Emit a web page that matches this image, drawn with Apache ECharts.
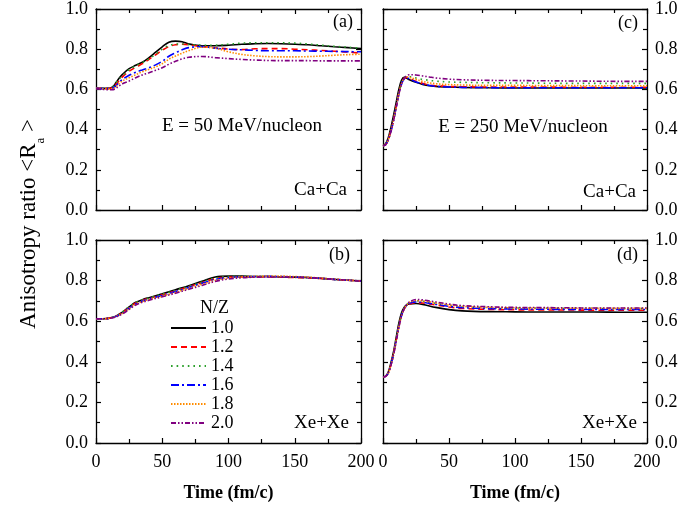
<!DOCTYPE html>
<html>
<head>
<meta charset="utf-8">
<script src="https://cdn.jsdelivr.net/npm/echarts@6/dist/echarts.min.js"></script>
<style>html,body{margin:0;padding:0;background:#fff;}#chart{width:681px;height:514px;}</style>
</head>
<body>
<div id="chart"></div>
<script>
// ---------- DATA ----------
const nzLabels = ['1.0', '1.2', '1.4', '1.6', '1.8', '2.0'];
const xTicks = [0, 50, 100, 150, 200];
const yTicks = [0.0, 0.2, 0.4, 0.6, 0.8, 1.0];

// (a) Ca+Ca, E = 50 MeV/nucleon
const tA = [0,5,10,13,15,18,20,25,30,35,40,45,50,55,60,65,70,80,90,100,110,120,130,140,150,160,170,180,190,200];
const a10 = [0.605,0.605,0.606,0.615,0.633,0.66,0.675,0.703,0.72,0.735,0.758,0.785,0.812,0.835,0.84,0.837,0.826,0.817,0.817,0.82,0.825,0.827,0.828,0.827,0.825,0.822,0.817,0.812,0.808,0.803];
const a12 = [0.605,0.605,0.605,0.612,0.625,0.648,0.662,0.69,0.71,0.728,0.75,0.772,0.795,0.813,0.822,0.825,0.822,0.813,0.807,0.801,0.798,0.802,0.803,0.803,0.8,0.797,0.794,0.79,0.786,0.78];
const a14 = [0.605,0.605,0.606,0.615,0.632,0.655,0.668,0.698,0.718,0.733,0.752,0.775,0.8,0.818,0.825,0.826,0.823,0.82,0.82,0.825,0.83,0.832,0.832,0.832,0.83,0.826,0.82,0.814,0.81,0.805];
const a16 = [0.605,0.604,0.604,0.608,0.618,0.638,0.65,0.67,0.685,0.697,0.708,0.722,0.74,0.765,0.782,0.797,0.808,0.813,0.805,0.8,0.797,0.794,0.792,0.792,0.792,0.791,0.79,0.789,0.788,0.787];
const a18 = [0.605,0.603,0.602,0.605,0.613,0.632,0.642,0.658,0.673,0.688,0.7,0.712,0.728,0.75,0.766,0.78,0.793,0.81,0.805,0.787,0.774,0.767,0.763,0.762,0.762,0.763,0.766,0.77,0.773,0.775];
const a20 = [0.605,0.6,0.598,0.599,0.605,0.62,0.628,0.642,0.658,0.672,0.683,0.695,0.708,0.725,0.74,0.752,0.76,0.764,0.758,0.753,0.749,0.746,0.744,0.743,0.743,0.743,0.742,0.742,0.742,0.742];

// (b) Xe+Xe, E = 50 MeV/nucleon
const tB = [0,5,10,15,20,25,30,35,40,50,60,70,80,90,100,110,120,130,140,150,160,170,180,190,200];
const b10 = [0.612,0.612,0.615,0.625,0.645,0.67,0.693,0.706,0.716,0.735,0.755,0.775,0.797,0.818,0.822,0.822,0.82,0.82,0.818,0.817,0.815,0.811,0.806,0.802,0.798];
const b12 = [0.612,0.612,0.615,0.625,0.643,0.668,0.69,0.703,0.713,0.73,0.75,0.77,0.79,0.81,0.817,0.818,0.818,0.818,0.817,0.815,0.813,0.81,0.806,0.802,0.798];
const b14 = [0.612,0.612,0.615,0.626,0.646,0.672,0.692,0.705,0.714,0.733,0.752,0.772,0.793,0.813,0.82,0.821,0.82,0.82,0.818,0.816,0.814,0.81,0.806,0.802,0.798];
const b16 = [0.612,0.612,0.614,0.623,0.64,0.664,0.686,0.7,0.71,0.727,0.746,0.766,0.787,0.806,0.815,0.818,0.82,0.821,0.82,0.818,0.815,0.811,0.806,0.802,0.798];
const b18 = [0.612,0.612,0.614,0.622,0.638,0.662,0.683,0.697,0.707,0.723,0.742,0.762,0.782,0.801,0.813,0.818,0.821,0.822,0.822,0.82,0.817,0.812,0.807,0.802,0.798];
const b20 = [0.612,0.612,0.614,0.621,0.636,0.658,0.68,0.693,0.703,0.72,0.738,0.757,0.776,0.796,0.808,0.814,0.817,0.818,0.818,0.817,0.815,0.811,0.806,0.802,0.797];

// (c) Ca+Ca, E = 250 MeV/nucleon
const tC = [0,2,4,6,8,10,12,14,16,18,20,25,30,35,40,50,60,80,100,120,140,160,180,200];
const c10 = [0.32,0.33,0.36,0.41,0.47,0.535,0.6,0.645,0.66,0.655,0.648,0.635,0.625,0.618,0.615,0.612,0.61,0.608,0.607,0.607,0.607,0.607,0.607,0.607];
const c12 = [0.32,0.325,0.35,0.395,0.45,0.515,0.58,0.63,0.655,0.66,0.655,0.64,0.63,0.622,0.618,0.615,0.613,0.612,0.612,0.612,0.611,0.611,0.611,0.611];
const c14 = [0.32,0.325,0.35,0.393,0.448,0.513,0.578,0.63,0.657,0.665,0.664,0.657,0.65,0.645,0.641,0.637,0.635,0.633,0.632,0.631,0.63,0.63,0.63,0.63];
const c16 = [0.32,0.325,0.35,0.39,0.445,0.51,0.575,0.625,0.652,0.658,0.652,0.637,0.627,0.62,0.615,0.612,0.61,0.609,0.608,0.608,0.608,0.608,0.608,0.608];
const c18 = [0.32,0.325,0.35,0.393,0.448,0.513,0.578,0.628,0.655,0.662,0.66,0.65,0.64,0.633,0.628,0.624,0.622,0.62,0.62,0.619,0.619,0.618,0.618,0.618];
const c20 = [0.32,0.325,0.35,0.39,0.445,0.51,0.575,0.625,0.655,0.668,0.673,0.672,0.667,0.662,0.657,0.651,0.648,0.645,0.644,0.643,0.642,0.641,0.64,0.64];

// (d) Xe+Xe, E = 250 MeV/nucleon
const tD = [0,2,4,6,8,10,12,14,16,18,20,25,30,40,50,60,80,100,120,140,160,180,200];
const d10 = [0.325,0.33,0.35,0.395,0.45,0.52,0.59,0.64,0.668,0.68,0.685,0.687,0.683,0.668,0.657,0.651,0.647,0.646,0.645,0.645,0.645,0.644,0.644];
const d12 = [0.325,0.328,0.345,0.385,0.44,0.507,0.575,0.628,0.66,0.677,0.685,0.692,0.69,0.68,0.67,0.663,0.658,0.656,0.655,0.655,0.654,0.654,0.654];
const d14 = [0.325,0.328,0.345,0.385,0.44,0.507,0.575,0.628,0.662,0.682,0.692,0.7,0.698,0.688,0.678,0.672,0.667,0.665,0.664,0.663,0.663,0.662,0.662];
const d16 = [0.325,0.328,0.345,0.385,0.44,0.505,0.573,0.626,0.66,0.678,0.688,0.695,0.693,0.683,0.673,0.667,0.662,0.66,0.659,0.658,0.658,0.658,0.658];
const d18 = [0.325,0.328,0.345,0.383,0.437,0.503,0.57,0.625,0.66,0.68,0.692,0.702,0.7,0.69,0.68,0.673,0.668,0.666,0.665,0.664,0.664,0.663,0.663];
const d20 = [0.325,0.328,0.344,0.382,0.435,0.5,0.568,0.623,0.66,0.682,0.695,0.707,0.705,0.695,0.684,0.677,0.671,0.668,0.667,0.666,0.665,0.665,0.665];

// ---------- STYLE ----------
const FONT = '"Liberation Serif", "Times New Roman", serif';
const colors = ['#000000', '#ff0000', '#2ca02c', '#0000ff', '#ff8c00', '#800080'];
const dashes = ['solid', [6, 4], [1.6, 4], [8, 3, 2, 3], [1.5, 1.5], [5, 2, 1.5, 2, 1.5, 2]];

const panels = [
  { t: tA, vals: [a10, a12, a14, a16, a18, a20], grid: { left: 96, top: 7, width: 265, height: 203 }, bottom: false, right: false },
  { t: tB, vals: [b10, b12, b14, b16, b18, b20], grid: { left: 96, top: 240, width: 265, height: 203 }, bottom: true, right: false },
  { t: tC, vals: [c10, c12, c14, c16, c18, c20], grid: { left: 383, top: 7, width: 264, height: 203 }, bottom: false, right: true },
  { t: tD, vals: [d10, d12, d14, d16, d18, d20], grid: { left: 383, top: 240, width: 264, height: 203 }, bottom: true, right: true }
];

const axLine = { show: true, onZero: false, lineStyle: { color: '#000', width: 1.3 } };
const tick = { show: true, inside: true, length: 5, lineStyle: { color: '#000', width: 1.2 } };
const minor = { show: true, splitNumber: 2, length: 4, lineStyle: { color: '#000', width: 1.2 } };

const grids = [], xAxes = [], yAxes = [], series = [];
panels.forEach((p, i) => {
  grids.push(Object.assign({ containLabel: false }, p.grid));
});
// primary axes (indices 0..3)
panels.forEach((p, i) => {
  xAxes.push({
    type: 'value', gridIndex: i, position: 'bottom',
    min: xTicks[0], max: xTicks[xTicks.length - 1], interval: xTicks[1] - xTicks[0],
    axisLine: axLine, axisTick: tick, minorTick: minor, splitLine: { show: false },
    axisLabel: { show: p.bottom, color: '#000', fontSize: 18, fontFamily: FONT, margin: 10 },
    name: p.bottom ? 'Time (fm/c)' : '', nameLocation: 'middle', nameGap: 41,
    nameTextStyle: { color: '#000', fontSize: 18, fontWeight: 'bold', fontFamily: FONT }
  });
  yAxes.push({
    type: 'value', gridIndex: i, position: p.right ? 'right' : 'left',
    min: yTicks[0], max: yTicks[yTicks.length - 1], interval: yTicks[1] - yTicks[0],
    axisLine: axLine, axisTick: tick, minorTick: minor, splitLine: { show: false },
    axisLabel: { show: true, color: '#000', fontSize: 18, fontFamily: FONT, margin: 8,
      formatter: v => v.toFixed(1) }
  });
});
// mirror axes (indices 4..7)
panels.forEach((p, i) => {
  xAxes.push({
    type: 'value', gridIndex: i, position: 'top',
    min: xTicks[0], max: xTicks[xTicks.length - 1], interval: xTicks[1] - xTicks[0],
    axisLine: axLine, axisTick: tick, minorTick: minor, splitLine: { show: false },
    axisLabel: { show: false }
  });
  yAxes.push({
    type: 'value', gridIndex: i, position: p.right ? 'left' : 'right',
    min: yTicks[0], max: yTicks[yTicks.length - 1], interval: yTicks[1] - yTicks[0],
    axisLine: axLine, axisTick: tick, minorTick: minor, splitLine: { show: false },
    axisLabel: { show: false }
  });
});

panels.forEach((p, i) => {
  p.vals.forEach((vals, k) => {
    series.push({
      type: 'line', name: nzLabels[k], xAxisIndex: i, yAxisIndex: i,
      data: p.t.map((t, j) => [t, vals[j]]),
      showSymbol: false, symbol: 'none', smooth: 0.35,
      lineStyle: { color: colors[k], width: 1.6, type: dashes[k] },
      itemStyle: { color: colors[k] },
      emphasis: { disabled: true }, silent: true, animation: false
    });
  });
});

function txt(x, y, s, align, size) {
  return { type: 'text', x: x, y: y, silent: true,
    style: { text: s, fill: '#000', font: size + 'px ' + FONT, align: align, verticalAlign: 'middle' } };
}

const graphics = [
  txt(353, 22, '(a)', 'right', 18),
  txt(350, 255, '(b)', 'right', 18),
  txt(638, 23, '(c)', 'right', 18),
  txt(638, 255, '(d)', 'right', 18),
  txt(347, 190, 'Ca+Ca', 'right', 19),
  txt(636, 192, 'Ca+Ca', 'right', 19),
  txt(349, 423, 'Xe+Xe', 'right', 19),
  txt(637, 423, 'Xe+Xe', 'right', 19),
  txt(242, 126, 'E = 50 MeV/nucleon', 'center', 19),
  txt(523, 127, 'E = 250 MeV/nucleon', 'center', 19),
  txt(200, 308, 'N/Z', 'left', 18),
  {
    type: 'text', x: 29, y: 224, rotation: Math.PI / 2, silent: true,
    style: {
      text: 'Anisotropy ratio <R{sub|a} >',
      fill: '#000', font: '23px ' + FONT, align: 'center', verticalAlign: 'middle',
      rich: { sub: { fontSize: 13, fontFamily: FONT, fill: '#000', lineHeight: 13, padding: [17, 0, 0, 0], verticalAlign: 'top' } }
    }
  }
];

const chart = echarts.init(document.getElementById('chart'), null, { renderer: 'canvas' });
chart.setOption({
  animation: false,
  backgroundColor: '#fff',
  textStyle: { fontFamily: FONT },
  grid: grids,
  xAxis: xAxes,
  yAxis: yAxes,
  legend: {
    data: nzLabels, orient: 'vertical', left: 170, top: 319, padding: 0,
    itemWidth: 35, itemHeight: 12, itemGap: 1, selectedMode: false,
    itemStyle: { opacity: 0 },
    lineStyle: { width: 2 },
    textStyle: { color: '#000', fontSize: 18, fontFamily: FONT }
  },
  graphic: graphics,
  series: series
});
</script>
</body>
</html>
